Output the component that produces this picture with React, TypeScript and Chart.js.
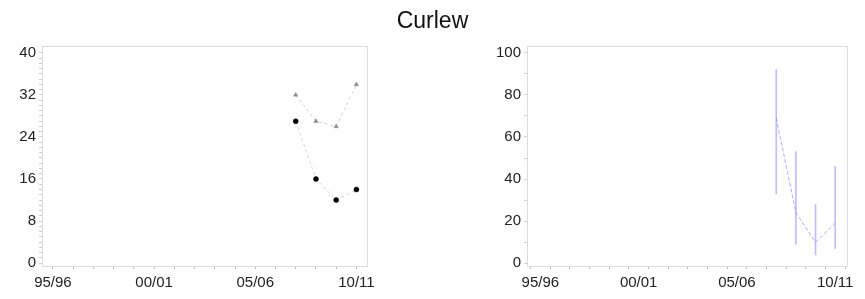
import React, { useEffect, useRef } from "react";
import { Chart, registerables } from "chart.js";

Chart.register(...registerables);

const seasons = [
  "95/96", "96/97", "97/98", "98/99", "99/00", "00/01", "01/02", "02/03",
  "03/04", "04/05", "05/06", "06/07", "07/08", "08/09", "09/10", "10/11",
];
const labelledSeasons = ["95/96", "00/01", "05/06", "10/11"];
const surveySeasons = ["07/08", "08/09", "09/10", "10/11"];

const peakCounts = [32, 27, 26, 34];
const meanCounts = [27, 16, 12, 14];

const densityMean = [69, 24, 10, 19];
const densityLower = [33, 9, 4, 7];
const densityUpper = [92, 53, 28, 46];

const leftYLabels = [0, 8, 16, 24, 32, 40];
const rightYLabels = [0, 20, 40, 60, 80, 100];

const FONT = "'Liberation Sans', Arial, Helvetica, sans-serif";

const boxPlugin = {
  id: "box",
  afterDraw(chart: any) {
    const { ctx, chartArea } = chart;
    ctx.save();
    ctx.strokeStyle = "#dcdcdc";
    ctx.lineWidth = 1;
    ctx.strokeRect(
      Math.round(chartArea.left) + 0.5,
      Math.round(chartArea.top) + 0.5,
      Math.round(chartArea.right - chartArea.left),
      Math.round(chartArea.bottom - chartArea.top)
    );
    ctx.restore();
  },
};

function xScale(min: number, max: number) {
  return {
    type: "linear",
    min,
    max,
    offset: false,
    afterBuildTicks: (s: any) => {
      s.ticks = seasons.map((_, i) => ({ value: i }));
    },
    afterFit: (s: any) => {
      s.height = 33;
    },
    ticks: {
      autoSkip: false,
      maxRotation: 0,
      padding: 5,
      color: "#222",
      font: { family: FONT, size: 15 },
      callback: (v: any) => {
        const lab = seasons[Math.round(Number(v))];
        return labelledSeasons.includes(lab) ? lab : "";
      },
    },
    grid: {
      drawOnChartArea: false,
      drawTicks: true,
      tickLength: 3,
      tickColor: "#bbbbbb",
    },
    border: { display: false },
  };
}

function yScale(min: number, max: number, step: number, labels: number[], width: number) {
  return {
    type: "linear",
    min,
    max,
    afterBuildTicks: (s: any) => {
      const t: any[] = [];
      for (let v = 0; v <= labels[labels.length - 1] + 1e-9; v += step) t.push({ value: v });
      s.ticks = t;
    },
    afterFit: (s: any) => {
      s.width = width;
    },
    ticks: {
      autoSkip: false,
      padding: 3,
      color: "#222",
      font: { family: FONT, size: 15 },
      callback: (v: any) => (labels.includes(Number(v)) ? String(v) : ""),
    },
    grid: {
      drawOnChartArea: false,
      drawTicks: true,
      tickLength: 3,
      tickColor: "#d0d0d0",
    },
    border: { display: false },
  };
}

function LeftChart() {
  const ref = useRef<HTMLCanvasElement>(null);
  useEffect(() => {
    const x = (s: string) => seasons.indexOf(s);
    const chart = new Chart(ref.current as HTMLCanvasElement, {
      type: "line",
      data: {
        datasets: [
          {
            label: "Peak",
            data: surveySeasons.map((s, i) => ({ x: x(s), y: peakCounts[i] })),
            borderColor: "#d0d0d0",
            borderWidth: 1,
            borderDash: [3, 3],
            pointStyle: "triangle",
            pointRadius: 2.5,
            pointBackgroundColor: "#8a8a8a",
            pointBorderColor: "#8a8a8a",
            pointBorderWidth: 0.5,
          },
          {
            label: "Mean",
            data: surveySeasons.map((s, i) => ({ x: x(s), y: meanCounts[i] })),
            borderColor: "#d0d0d0",
            borderWidth: 1,
            borderDash: [3, 3],
            pointStyle: "circle",
            pointRadius: 2.5,
            pointBackgroundColor: "#000",
            pointBorderColor: "#000",
            pointBorderWidth: 0.5,
          },
        ],
      },
      options: {
        animation: false,
        responsive: false,
        maintainAspectRatio: false,
        layout: { padding: { top: 46, right: 11, left: 0, bottom: 0 } },
        plugins: { legend: { display: false }, tooltip: { enabled: false }, title: { display: false } },
        scales: {
          x: xScale(-0.54, 15.54) as any,
          y: yScale(-0.57, 41.33, 1, leftYLabels, 42) as any,
        },
      },
      plugins: [boxPlugin],
    });
    return () => chart.destroy();
  }, []);
  return (
    <canvas
      ref={ref}
      width={380}
      height={299}
      style={{ position: "absolute", left: 0, top: 0, width: 380, height: 299 }}
    />
  );
}

function RightChart() {
  const ref = useRef<HTMLCanvasElement>(null);
  useEffect(() => {
    const x = (s: string) => seasons.indexOf(s);
    const chart = new Chart(ref.current as HTMLCanvasElement, {
      type: "bar",
      data: {
        datasets: [
          {
            type: "bar",
            label: "Range",
            data: surveySeasons.map((s, i) => ({ x: x(s), y: [densityLower[i], densityUpper[i]] })) as any,
            backgroundColor: "rgba(110,110,255,0.45)",
            borderWidth: 0,
            barThickness: 1,
          },
          {
            type: "line",
            label: "Mean",
            data: surveySeasons.map((s, i) => ({ x: x(s), y: densityMean[i] })),
            borderColor: "rgba(140,140,255,0.7)",
            borderWidth: 1,
            borderDash: [4, 2],
            pointRadius: 0,
          } as any,
        ],
      },
      options: {
        animation: false,
        responsive: false,
        maintainAspectRatio: false,
        layout: { padding: { top: 46, right: 18, left: 0, bottom: 0 } },
        plugins: { legend: { display: false }, tooltip: { enabled: false }, title: { display: false } },
        scales: {
          x: xScale(-0.68, 15.6) as any,
          y: yScale(-1.3, 103.2, 10, rightYLabels, 97) as any,
        },
      },
      plugins: [boxPlugin],
    });
    return () => chart.destroy();
  }, []);
  return (
    <canvas
      ref={ref}
      width={435}
      height={299}
      style={{ position: "absolute", left: 430, top: 0, width: 435, height: 299 }}
    />
  );
}

export default function App() {
  useEffect(() => {
    document.body.style.margin = "0";
  }, []);
  return (
    <div style={{ position: "relative", width: 865, height: 299, background: "#fff", overflow: "hidden" }}>
      <LeftChart />
      <RightChart />
      <div
        style={{
          position: "absolute",
          left: 0,
          top: 6,
          width: 865,
          textAlign: "center",
          fontFamily: FONT,
          fontSize: 23,
          color: "#111",
          lineHeight: "28px",
        }}
      >
        Curlew
      </div>
    </div>
  );
}
